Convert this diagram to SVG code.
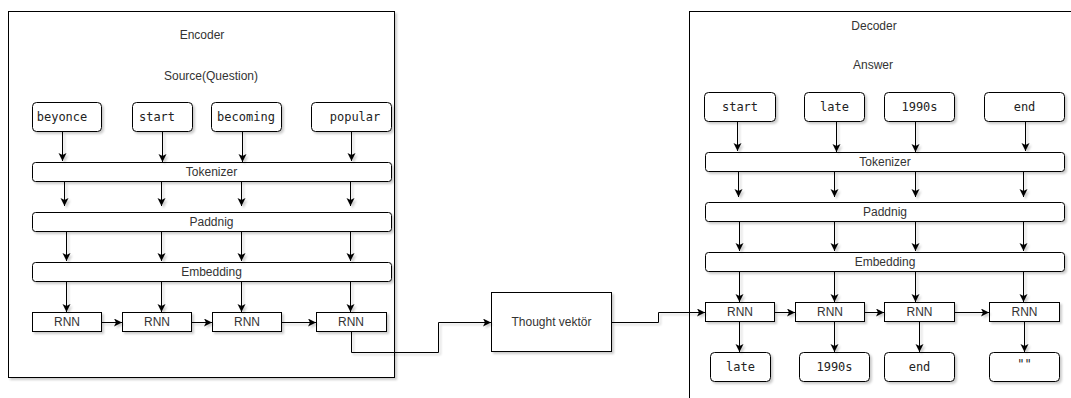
<svg xmlns="http://www.w3.org/2000/svg" width="1071" height="398" viewBox="0 0 1071 398">
<style>
.frame{fill:#fff;stroke:#000;stroke-width:1}
.box{fill:#fff;stroke:#000;stroke-width:1}
.lbl{font-family:"Liberation Sans",Arial,sans-serif;font-size:12px;fill:#333;text-anchor:middle;dominant-baseline:central}
.mono{font-family:"DejaVu Sans Mono","Liberation Mono",monospace;font-size:12px;fill:#222;text-anchor:middle;dominant-baseline:central}
.edge{fill:none;stroke:#000;stroke-width:1}
</style>
<defs>
<marker id="arr" markerUnits="userSpaceOnUse" markerWidth="10" markerHeight="10" refX="8" refY="4" orient="auto">
<path d="M0,0 L8,4 L0,8 L2,4 z" fill="#000"/>
</marker>
<filter id="sh" x="-5%" y="-5%" width="115%" height="130%">
<feDropShadow dx="2" dy="2" stdDeviation="1.2" flood-color="#000" flood-opacity="0.2"/>
</filter>
</defs>

<g id="encoder">
<rect class="frame" x="8.5" y="11.5" width="386" height="366" filter="url(#sh)"/>
<text class="lbl" x="202" y="35">Encoder</text>
<text class="lbl" x="211" y="76">Source(Question)</text>
</g>
<g id="decoder">
<rect class="frame" x="689.5" y="11.5" width="400" height="400" filter="url(#sh)"/>
<text class="lbl" x="874" y="26">Decoder</text>
<text class="lbl" x="873" y="65">Answer</text>
</g>

<g id="enc-words">
<g id="e-beyonce"><rect class="box" x="32.5" y="102.5" width="69" height="29" rx="4" filter="url(#sh)"/><text class="mono" x="62" y="116.5">beyonce</text></g>
<g id="e-start"><rect class="box" x="132.5" y="102.5" width="60" height="29" rx="4" filter="url(#sh)"/><text class="mono" x="157" y="116.5">start</text></g>
<g id="e-becoming"><rect class="box" x="211.5" y="102.5" width="70" height="29" rx="4" filter="url(#sh)"/><text class="mono" x="246" y="116.5">becoming</text></g>
<g id="e-popular"><rect class="box" x="311.5" y="102.5" width="80" height="29" rx="4" filter="url(#sh)"/><text class="mono" x="355" y="116.5">popular</text></g>
</g>

<g id="e-tokenizer"><rect class="box" x="32.5" y="162.5" width="359" height="19" rx="3" filter="url(#sh)"/><text class="lbl" x="211.5" y="172">Tokenizer</text></g>
<g id="e-padding"><rect class="box" x="32.5" y="212.5" width="359" height="19" rx="3" filter="url(#sh)"/><text class="lbl" x="211.5" y="222">Paddnig</text></g>
<g id="e-embedding"><rect class="box" x="32.5" y="262.5" width="359" height="19" rx="3" filter="url(#sh)"/><text class="lbl" x="211.5" y="272">Embedding</text></g>

<g id="e-rnn1"><rect class="box" x="32.5" y="312.5" width="69" height="19" filter="url(#sh)"/><text class="lbl" x="67" y="322">RNN</text></g>
<g id="e-rnn2"><rect class="box" x="122.5" y="312.5" width="69" height="19" filter="url(#sh)"/><text class="lbl" x="157" y="322">RNN</text></g>
<g id="e-rnn3"><rect class="box" x="212.5" y="312.5" width="69" height="19" filter="url(#sh)"/><text class="lbl" x="247" y="322">RNN</text></g>
<g id="e-rnn4"><rect class="box" x="316.5" y="312.5" width="70" height="19" filter="url(#sh)"/><text class="lbl" x="351" y="322">RNN</text></g>

<g id="thought"><rect class="box" x="491.5" y="292.5" width="120" height="59" filter="url(#sh)"/><text class="lbl" x="551.5" y="322">Thought vektör</text></g>

<g id="dec-words">
<g id="d-start"><rect class="box" x="704.5" y="92.5" width="71" height="29" rx="4" filter="url(#sh)"/><text class="mono" x="740" y="106.5">start</text></g>
<g id="d-late"><rect class="box" x="804.5" y="92.5" width="60" height="29" rx="4" filter="url(#sh)"/><text class="mono" x="834.5" y="106.5">late</text></g>
<g id="d-1990s"><rect class="box" x="884.5" y="92.5" width="70" height="29" rx="4" filter="url(#sh)"/><text class="mono" x="919.5" y="106.5">1990s</text></g>
<g id="d-end"><rect class="box" x="984.5" y="92.5" width="80" height="29" rx="4" filter="url(#sh)"/><text class="mono" x="1024.5" y="106.5">end</text></g>
</g>

<g id="d-tokenizer"><rect class="box" x="705.5" y="152.5" width="359" height="19" rx="3" filter="url(#sh)"/><text class="lbl" x="885" y="162">Tokenizer</text></g>
<g id="d-padding"><rect class="box" x="705.5" y="202.5" width="359" height="19" rx="3" filter="url(#sh)"/><text class="lbl" x="885" y="212">Paddnig</text></g>
<g id="d-embedding"><rect class="box" x="705.5" y="252.5" width="359" height="19" rx="3" filter="url(#sh)"/><text class="lbl" x="885" y="262">Embedding</text></g>

<g id="d-rnn1"><rect class="box" x="705.5" y="302.5" width="69" height="19" filter="url(#sh)"/><text class="lbl" x="740" y="312">RNN</text></g>
<g id="d-rnn2"><rect class="box" x="795.5" y="302.5" width="69" height="19" filter="url(#sh)"/><text class="lbl" x="830" y="312">RNN</text></g>
<g id="d-rnn3"><rect class="box" x="884.5" y="302.5" width="70" height="19" filter="url(#sh)"/><text class="lbl" x="919.5" y="312">RNN</text></g>
<g id="d-rnn4"><rect class="box" x="989.5" y="302.5" width="70" height="19" filter="url(#sh)"/><text class="lbl" x="1024.5" y="312">RNN</text></g>

<g id="dec-out">
<g id="o-late"><rect class="box" x="710.5" y="352.5" width="60" height="29" rx="4" filter="url(#sh)"/><text class="mono" x="740.5" y="366.5">late</text></g>
<g id="o-1990s"><rect class="box" x="799.5" y="352.5" width="70" height="29" rx="4" filter="url(#sh)"/><text class="mono" x="834.5" y="366.5">1990s</text></g>
<g id="o-end"><rect class="box" x="884.5" y="352.5" width="70" height="29" rx="4" filter="url(#sh)"/><text class="mono" x="919.5" y="366.5">end</text></g>
<g id="o-empty"><rect class="box" x="989.5" y="352.5" width="70" height="29" rx="4" filter="url(#sh)"/><text class="mono" x="1024.5" y="364">""</text></g>
</g>

<g id="connectors" filter="url(#sh)">
<path class="edge" marker-end="url(#arr)" d="M62.5,132 V161"/>
<path class="edge" marker-end="url(#arr)" d="M162.5,132 V162"/>
<path class="edge" marker-end="url(#arr)" d="M242.5,132 V162"/>
<path class="edge" marker-end="url(#arr)" d="M351.5,132 V161"/>
<path class="edge" marker-end="url(#arr)" d="M64.5,182 V206"/>
<path class="edge" marker-end="url(#arr)" d="M161.5,182 V206"/>
<path class="edge" marker-end="url(#arr)" d="M241.5,182 V206"/>
<path class="edge" marker-end="url(#arr)" d="M350.5,182 V206"/>
<path class="edge" marker-end="url(#arr)" d="M66.5,232 V261"/>
<path class="edge" marker-end="url(#arr)" d="M161.5,232 V261"/>
<path class="edge" marker-end="url(#arr)" d="M241.5,232 V261"/>
<path class="edge" marker-end="url(#arr)" d="M350.5,232 V261"/>
<path class="edge" marker-end="url(#arr)" d="M66.5,282 V312"/>
<path class="edge" marker-end="url(#arr)" d="M161.5,282 V312"/>
<path class="edge" marker-end="url(#arr)" d="M241.5,282 V312"/>
<path class="edge" marker-end="url(#arr)" d="M350.5,282 V312"/>
<path class="edge" marker-end="url(#arr)" d="M102,322.5 H122"/>
<path class="edge" marker-end="url(#arr)" d="M192,322.5 H212"/>
<path class="edge" marker-end="url(#arr)" d="M282,322.5 H316"/>
<path class="edge" marker-end="url(#arr)" d="M351.5,332 V352.5 H438.5 V322.5 H491"/>
<path class="edge" marker-end="url(#arr)" d="M612,322.5 H658.5 V312.5 H705"/>
<path class="edge" marker-end="url(#arr)" d="M737.5,122 V151"/>
<path class="edge" marker-end="url(#arr)" d="M836.5,122 V152"/>
<path class="edge" marker-end="url(#arr)" d="M915.5,122 V152"/>
<path class="edge" marker-end="url(#arr)" d="M1025.5,122 V151"/>
<path class="edge" marker-end="url(#arr)" d="M738.5,172 V197"/>
<path class="edge" marker-end="url(#arr)" d="M834.5,172 V197"/>
<path class="edge" marker-end="url(#arr)" d="M915.5,172 V197"/>
<path class="edge" marker-end="url(#arr)" d="M1023.5,172 V197"/>
<path class="edge" marker-end="url(#arr)" d="M739.5,222 V251"/>
<path class="edge" marker-end="url(#arr)" d="M834.5,222 V251"/>
<path class="edge" marker-end="url(#arr)" d="M915.5,222 V251"/>
<path class="edge" marker-end="url(#arr)" d="M1023.5,222 V251"/>
<path class="edge" marker-end="url(#arr)" d="M739.5,272 V302"/>
<path class="edge" marker-end="url(#arr)" d="M834.5,272 V302"/>
<path class="edge" marker-end="url(#arr)" d="M915.5,272 V302"/>
<path class="edge" marker-end="url(#arr)" d="M1023.5,272 V302"/>
<path class="edge" marker-end="url(#arr)" d="M775,312.5 H795"/>
<path class="edge" marker-end="url(#arr)" d="M865,312.5 H884"/>
<path class="edge" marker-end="url(#arr)" d="M955,312.5 H989"/>
<path class="edge" marker-end="url(#arr)" d="M739.5,322 V352"/>
<path class="edge" marker-end="url(#arr)" d="M834.5,322 V352"/>
<path class="edge" marker-end="url(#arr)" d="M919.5,322 V352"/>
<path class="edge" marker-end="url(#arr)" d="M1024.5,322 V352"/>
</g>
</svg>
